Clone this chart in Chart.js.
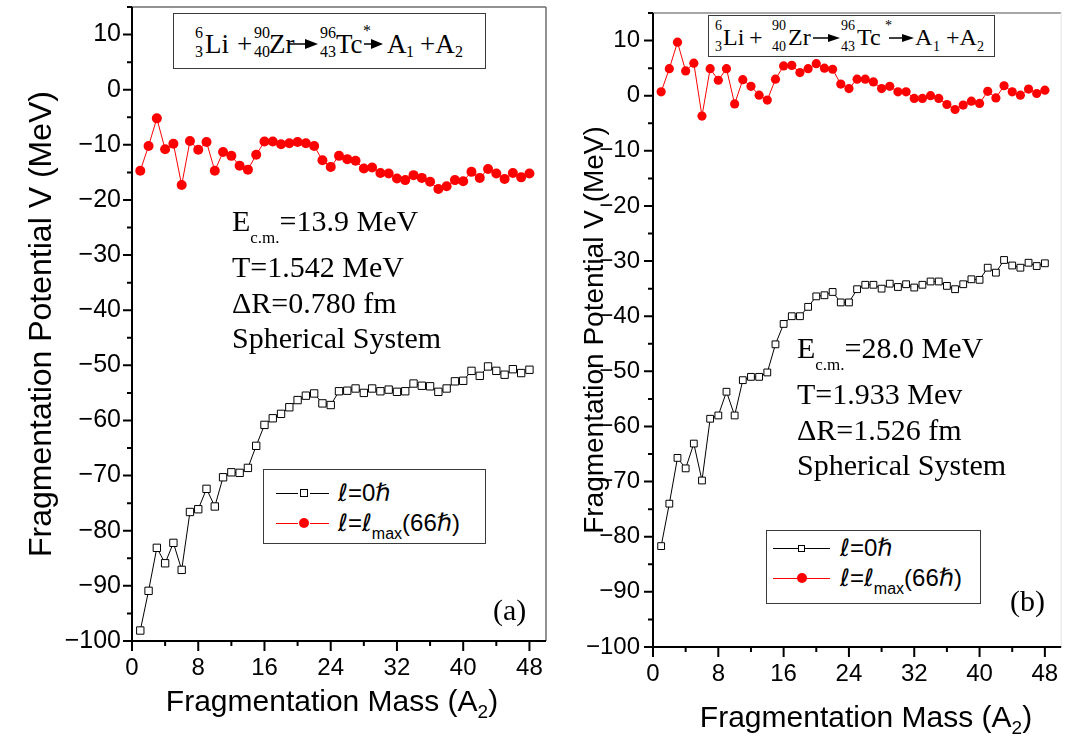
<!DOCTYPE html>
<html>
<head>
<meta charset="utf-8">
<script src="https://cdn.jsdelivr.net/npm/chart.js@4.4.0/dist/chart.umd.min.js"></script>
<style>
html,body{margin:0;padding:0;background:#fff;}
#wrap{position:relative;width:1067px;height:738px;overflow:hidden;background:#fff;}
canvas{position:absolute;top:0;}
.serif{position:absolute;white-space:nowrap;font-family:"Liberation Serif","Times New Roman",serif;color:#000;line-height:1;}
.box{position:absolute;box-sizing:border-box;border:1.5px solid #3a3a3a;background:#fff;}
.p{position:absolute;white-space:nowrap;font-family:"Liberation Serif","Times New Roman",serif;color:#000;line-height:1;}
.arr{position:absolute;}
.leg{position:absolute;white-space:nowrap;font-family:"Liberation Sans",Arial,sans-serif;color:#000;line-height:1;}
.lg-l{position:absolute;height:0;border-top:1px solid #000;}
.sq{position:absolute;box-sizing:border-box;border:1px solid #000;background:#fff;}
.dot{position:absolute;border-radius:50%;background:#ff0000;}
.it{font-style:italic;font-family:"DejaVu Sans","Liberation Sans",sans-serif;font-weight:200;}
</style>
</head>
<body>
<div id="wrap">
<canvas id="cA" width="560" height="738" style="left:0px;"></canvas>
<canvas id="cB" width="507" height="738" style="left:560px;"></canvas>

<!-- panel (a) reaction box -->
<div class="box" style="left:173px;top:13px;width:313px;height:56px;"></div>
<div class="p" style="left:195px;top:25px;font-size:16px;">6</div>
<div class="p" style="left:195px;top:44px;font-size:16px;">3</div>
<div class="p" style="left:205px;top:31px;font-size:27px;">Li</div>
<div class="p" style="left:237px;top:31px;font-size:27px;">+</div>
<div class="p" style="left:254px;top:25px;font-size:16px;">90</div>
<div class="p" style="left:254px;top:44px;font-size:16px;">40</div>
<div class="p" style="left:269px;top:31px;font-size:27px;">Zr</div>
<svg class="arr" style="left:288px;top:38px;" width="30" height="12" viewBox="0 0 30 12"><line x1="0" y1="6" x2="20" y2="6" stroke="#000" stroke-width="1.5"/><polygon points="17,1 30,6 17,11" fill="#000"/></svg>
<div class="p" style="left:320px;top:25px;font-size:16px;">96</div>
<div class="p" style="left:320px;top:44px;font-size:16px;">43</div>
<div class="p" style="left:336px;top:31px;font-size:27px;">Tc</div>
<div class="p" style="left:363px;top:23px;font-size:16px;">*</div>
<svg class="arr" style="left:364px;top:38px;" width="19" height="12" viewBox="0 0 19 12"><line x1="0" y1="6" x2="10" y2="6" stroke="#000" stroke-width="1.5"/><polygon points="7,1 19,6 7,11" fill="#000"/></svg>
<div class="p" style="left:387px;top:31px;font-size:27px;">A</div>
<div class="p" style="left:406px;top:44px;font-size:16px;">1</div>
<div class="p" style="left:420px;top:31px;font-size:27px;">+A</div>
<div class="p" style="left:455px;top:44px;font-size:16px;">2</div>

<div class="serif" style="left:232px;top:206px;font-size:30px;">E<span style="font-size:17px;vertical-align:-12px;">c.m.</span>=13.9 MeV</div>
<div class="serif" style="left:232px;top:252px;font-size:30px;">T=1.542 MeV</div>
<div class="serif" style="left:232px;top:288px;font-size:30px;">ΔR=0.780 fm</div>
<div class="serif" style="left:232px;top:323px;font-size:30px;">Spherical System</div>
<div class="serif" style="left:493px;top:595px;font-size:30px;">(a)</div>

<div class="box" style="left:263px;top:469px;width:223px;height:75px;"></div>
<div class="lg-l" style="left:276px;top:493px;width:22px;"></div>
<div class="lg-l" style="left:310px;top:493px;width:19px;"></div>
<div class="sq" style="left:300px;top:489px;width:8px;height:8px;"></div>
<div class="leg" style="left:338px;top:481px;font-size:24px;"><span class="it">ℓ</span>=0<span class="it">ℏ</span></div>
<div class="lg-l" style="left:276px;top:523px;width:22px;border-color:#ff0000;"></div>
<div class="lg-l" style="left:310px;top:523px;width:19px;border-color:#ff0000;"></div>
<div class="dot" style="left:299px;top:518px;width:10px;height:10px;"></div>
<div class="leg" style="left:338px;top:511px;font-size:24px;"><span class="it">ℓ</span>=<span class="it">ℓ</span><span style="font-size:16px;vertical-align:-8px;">max</span>(66<span class="it">ℏ</span>)</div>

<!-- panel (b) reaction box -->
<div class="box" style="left:708px;top:15px;width:287px;height:42px;"></div>
<div class="p" style="left:715px;top:19px;font-size:14px;">6</div>
<div class="p" style="left:715px;top:40px;font-size:14px;">3</div>
<div class="p" style="left:723px;top:25px;font-size:24px;">Li</div>
<div class="p" style="left:749px;top:25px;font-size:24px;">+</div>
<div class="p" style="left:772px;top:19px;font-size:14px;">90</div>
<div class="p" style="left:772px;top:40px;font-size:14px;">40</div>
<div class="p" style="left:788px;top:25px;font-size:24px;">Zr</div>
<svg class="arr" style="left:813px;top:33px;" width="27" height="10" viewBox="0 0 27 10"><line x1="0" y1="5" x2="18" y2="5" stroke="#000" stroke-width="1.5"/><polygon points="15,1 27,5 15,9" fill="#000"/></svg>
<div class="p" style="left:841px;top:19px;font-size:14px;">96</div>
<div class="p" style="left:841px;top:40px;font-size:14px;">43</div>
<div class="p" style="left:857px;top:25px;font-size:24px;">Tc</div>
<div class="p" style="left:885px;top:19px;font-size:14px;">*</div>
<svg class="arr" style="left:889px;top:33px;" width="25" height="10" viewBox="0 0 25 10"><line x1="0" y1="5" x2="16" y2="5" stroke="#000" stroke-width="1.5"/><polygon points="13,1 25,5 13,9" fill="#000"/></svg>
<div class="p" style="left:915px;top:25px;font-size:24px;">A</div>
<div class="p" style="left:933px;top:40px;font-size:14px;">1</div>
<div class="p" style="left:946px;top:25px;font-size:24px;">+A</div>
<div class="p" style="left:977px;top:40px;font-size:14px;">2</div>

<div class="serif" style="left:797px;top:333px;font-size:30px;">E<span style="font-size:17px;vertical-align:-12px;">c.m.</span>=28.0 MeV</div>
<div class="serif" style="left:797px;top:379px;font-size:30px;">T=1.933 Mev</div>
<div class="serif" style="left:797px;top:415px;font-size:30px;">ΔR=1.526 fm</div>
<div class="serif" style="left:797px;top:450px;font-size:30px;">Spherical System</div>
<div class="serif" style="left:1010px;top:586px;font-size:30px;">(b)</div>

<div class="box" style="left:766px;top:530px;width:215px;height:74px;"></div>
<div class="lg-l" style="left:773px;top:548px;width:57px;"></div>
<div class="sq" style="left:798px;top:545px;width:7px;height:7px;"></div>
<div class="leg" style="left:840px;top:536px;font-size:24px;"><span class="it">ℓ</span>=0<span class="it">ℏ</span></div>
<div class="lg-l" style="left:773px;top:578px;width:57px;border-color:#ff0000;"></div>
<div class="dot" style="left:797px;top:573px;width:10px;height:10px;"></div>
<div class="leg" style="left:840px;top:566px;font-size:24px;"><span class="it">ℓ</span>=<span class="it">ℓ</span><span style="font-size:16px;vertical-align:-8px;">max</span>(66<span class="it">ℏ</span>)</div>
</div>

<script>
// ---------------- data ----------------
const fragMass = [1,2,3,4,5,6,7,8,9,10,11,12,13,14,15,16,17,18,19,20,21,22,23,24,25,26,27,28,29,30,31,32,33,34,35,36,37,38,39,40,41,42,43,44,45,46,47,48];
const xTickLabels = [0, 8, 16, 24, 32, 40, 48];
const yTickLabels = [-100, -90, -80, -70, -60, -50, -40, -30, -20, -10, 0, 10];

// panel (a): Ec.m. = 13.9 MeV
const potA_l0 = [-98.1,-90.9,-83.1,-85.9,-82.2,-87.1,-76.6,-76.1,-72.4,-75.6,-70.3,-69.4,-69.5,-68.6,-64.6,-60.8,-59.6,-58.8,-57.6,-56.3,-55.5,-55.1,-56.9,-57.2,-54.7,-54.6,-54.2,-55.0,-54.2,-54.7,-54.4,-54.8,-54.7,-53.3,-53.7,-53.8,-54.8,-54.2,-52.9,-52.8,-51.0,-51.9,-50.2,-51.0,-51.7,-50.7,-51.4,-50.8];
const potA_lmax = [-14.7,-10.2,-5.2,-10.8,-9.8,-17.3,-9.3,-10.9,-9.5,-14.7,-11.3,-12.0,-13.8,-14.5,-11.8,-9.4,-9.4,-9.9,-9.7,-9.5,-9.7,-10.2,-12.8,-14.0,-12.0,-12.6,-12.9,-14.3,-14.1,-15.1,-15.2,-16.1,-16.4,-15.5,-16.0,-16.7,-18.0,-17.5,-16.4,-16.6,-14.9,-16.0,-14.4,-15.2,-16.2,-15.1,-15.9,-15.2];

// panel (b): Ec.m. = 28.0 MeV
const potB_l0 = [-81.7,-74.0,-65.7,-67.6,-63.1,-69.8,-58.6,-58.0,-53.7,-58.0,-51.6,-51.0,-51.0,-50.2,-45.1,-41.4,-40.0,-40.0,-38.3,-36.4,-36.2,-35.6,-37.5,-37.5,-35.1,-34.3,-34.3,-35.0,-34.1,-34.7,-34.2,-34.8,-34.3,-33.7,-33.7,-34.5,-35.1,-34.2,-33.3,-33.4,-31.2,-32.1,-29.8,-30.8,-31.2,-30.3,-30.9,-30.4];
const potB_lmax = [0.7,4.9,9.7,4.5,5.9,-3.7,4.9,2.8,4.9,-1.5,2.9,1.7,0.1,-0.8,3.0,5.4,5.5,4.2,4.9,5.8,5.0,4.8,2.1,1.3,3.0,3.0,2.5,1.3,1.7,0.7,0.7,-0.5,-0.5,0.0,-0.5,-1.6,-2.5,-1.7,-1.0,-1.4,0.8,-0.4,1.8,0.7,0.1,1.2,0.4,1.0];

const xTitle = 'Fragmentation Mass (A';
const yTitle = 'Fragmentation Potential V (MeV)';

// ---------------- drawing ----------------
const SANS = '"Liberation Sans", Arial, sans-serif';
const fmt = v => String(v).replace('-', '\u2212');

const frameTicks = {
  id: 'frameTicks',
  afterDatasetsDraw(chart, args, o) {
    const {ctx, chartArea: a, scales: {x, y}} = chart;
    ctx.save();
    ctx.lineCap = 'butt';
    ctx.lineWidth = 1.5;
    ctx.strokeStyle = o.topColor;
    ctx.beginPath(); ctx.moveTo(a.left, a.top); ctx.lineTo(a.right, a.top); ctx.stroke();
    ctx.strokeStyle = o.rightColor;
    ctx.beginPath(); ctx.moveTo(a.right, a.top); ctx.lineTo(a.right, a.bottom); ctx.stroke();
    ctx.strokeStyle = '#000'; ctx.lineWidth = 2;
    ctx.beginPath(); ctx.moveTo(a.left, a.top); ctx.lineTo(a.left, a.bottom); ctx.lineTo(a.right, a.bottom); ctx.stroke();
    const xs = xTickLabels, ys = yTickLabels;
    const xStep = xs[1] - xs[0], yStep = ys[1] - ys[0];
    ctx.beginPath();
    for (const v of xs) {
      const p = x.getPixelForValue(v);
      ctx.moveTo(p, a.bottom); ctx.lineTo(p, a.bottom + 10);
      if (v + xStep / 2 <= x.max) { const q = x.getPixelForValue(v + xStep / 2); ctx.moveTo(q, a.bottom); ctx.lineTo(q, a.bottom + 5); }
    }
    for (const v of ys) {
      const p = y.getPixelForValue(v);
      ctx.moveTo(a.left - 9, p); ctx.lineTo(a.left, p);
      if (v + yStep / 2 <= y.max) { const q = y.getPixelForValue(v + yStep / 2); ctx.moveTo(a.left - 5, q); ctx.lineTo(a.left, q); }
    }
    ctx.stroke();
    // x title with subscript
    ctx.fillStyle = '#000';
    ctx.textBaseline = 'alphabetic';
    const big = o.xTitleSize + 'px ' + SANS, small = Math.round(o.xTitleSize * 0.62) + 'px ' + SANS;
    ctx.font = big;
    const w1 = ctx.measureText(xTitle).width, w3 = ctx.measureText(')').width;
    ctx.font = small;
    const w2 = ctx.measureText('2').width;
    const sx = o.xTitleCenter - (w1 + w2 + w3) / 2;
    ctx.font = big; ctx.fillText(xTitle, sx, o.xTitleBase);
    ctx.font = small; ctx.fillText('2', sx + w1, o.xTitleBase + o.xTitleSize * 0.22);
    ctx.font = big; ctx.fillText(')', sx + w1 + w2, o.xTitleBase);
    ctx.restore();
  }
};

function zeroPad(s) { s.paddingLeft = 0; s.paddingRight = 0; s.paddingTop = 0; s.paddingBottom = 0; }

function makePanel(id, l0, lmax, g) {
  const ptsL0 = fragMass.map((m, i) => ({x: m, y: l0[i]}));
  const ptsLmax = fragMass.map((m, i) => ({x: m, y: lmax[i]}));
  return new Chart(document.getElementById(id), {
    type: 'line',
    data: {
      datasets: [
        {label: 'l=0', data: ptsL0, borderColor: '#000', borderWidth: 1, pointStyle: 'rect',
         pointRadius: g.sqR, pointBackgroundColor: '#fff', pointBorderColor: '#000', pointBorderWidth: 1, tension: 0},
        {label: 'l=lmax', data: ptsLmax, borderColor: '#ff0000', borderWidth: 1, pointStyle: 'circle',
         pointRadius: g.dotR, pointBackgroundColor: '#ff0000', pointBorderColor: '#ff0000', pointBorderWidth: 0, tension: 0}
      ]
    },
    options: {
      responsive: false, animation: false, devicePixelRatio: 1,
      layout: {padding: {top: g.top, right: g.right, left: 0, bottom: 0}},
      plugins: {legend: {display: false}, tooltip: {enabled: false},
        frameTicks: {topColor: g.topColor, rightColor: g.rightColor, xTitleSize: g.xTitleSize, xTitleCenter: g.xTitleCenter, xTitleBase: g.xTitleBase}},
      scales: {
        x: {type: 'linear', min: 0, max: 50,
            afterBuildTicks: s => { s.ticks = xTickLabels.map(v => ({value: v})); },
            afterFit: s => { s.height = g.xH; zeroPad(s); },
            border: {display: false},
            grid: {display: true, drawOnChartArea: false, drawTicks: false, color: 'rgba(0,0,0,0)'},
            ticks: {autoSkip: false, maxRotation: 0, padding: g.xPad, color: '#000',
                    font: {family: SANS, size: g.xTickSize}, callback: v => fmt(v)}},
        y: {type: 'linear', min: -100, max: 15,
            afterBuildTicks: s => { s.ticks = yTickLabels.map(v => ({value: v})); },
            afterFit: s => { s.width = g.yW; zeroPad(s); },
            border: {display: false},
            grid: {display: true, drawOnChartArea: false, drawTicks: false, color: 'rgba(0,0,0,0)'},
            ticks: {autoSkip: false, padding: g.yPad, color: '#000',
                    font: {family: SANS, size: g.yTickSize}, callback: v => fmt(v)},
            title: {display: true, text: yTitle, color: '#000', font: {family: SANS, size: g.yTitleSize},
                    padding: {top: g.yTitlePad, bottom: 0}}}
      }
    },
    plugins: [frameTicks]
  });
}

makePanel('cA', potA_l0, potA_lmax, {
  top: 7, right: 14, xH: 97, yW: 132, xPad: 13, yPad: 11, xTickSize: 24, yTickSize: 25,
  yTitleSize: 32, yTitlePad: 23, xTitleSize: 30, xTitleCenter: 332, xTitleBase: 711,
  topColor: '#6e6e6e', rightColor: '#6e6e6e', sqR: 5.2, dotR: 5
});
makePanel('cB', potB_l0, potB_lmax, {
  top: 13, right: 4, xH: 91, yW: 93, xPad: 13, yPad: 13, xTickSize: 24, yTickSize: 24,
  yTitleSize: 28, yTitlePad: 18, xTitleSize: 30, xTitleCenter: 306, xTitleBase: 727,
  topColor: '#8a8a8a', rightColor: '#ececec', sqR: 4.8, dotR: 4.6
});
</script>
</body>
</html>
